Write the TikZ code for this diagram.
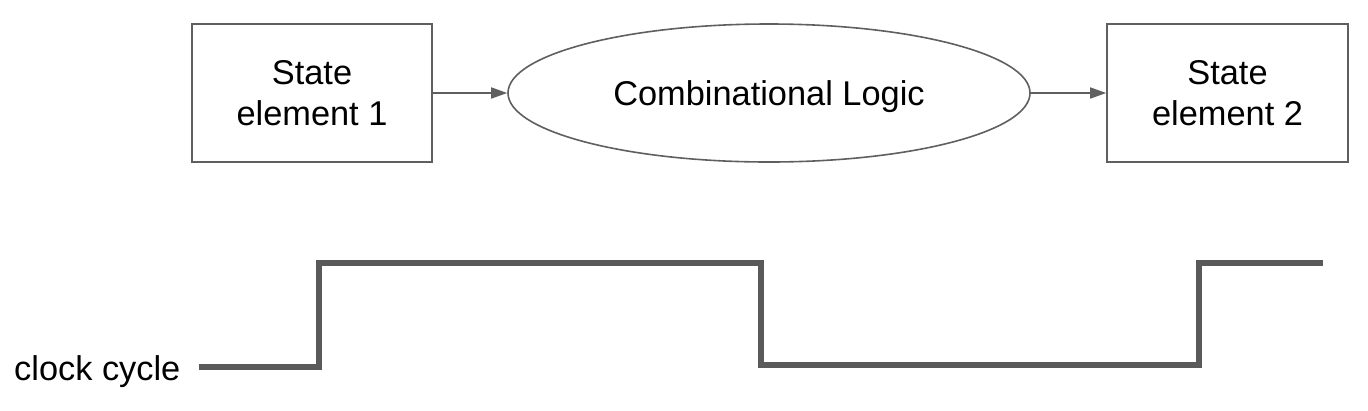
\documentclass[tikz,border=0pt]{standalone}
\usepackage{fontspec}
\setmainfont{Liberation Sans}
\usetikzlibrary{shapes.geometric,arrows.meta}
\definecolor{edge}{HTML}{5F5F5F}
\definecolor{wave}{HTML}{5A5A5A}
\tikzset{
  txt/.style={font=\fontsize{34.5}{41}\selectfont},
  stbox/.style={txt, draw=edge, line width=1.6bp, rectangle, minimum width=240bp, minimum height=138bp, inner sep=0pt, align=center},
  logic/.style={txt, draw=edge, line width=1.6bp, ellipse, minimum width=522bp, minimum height=138bp, inner sep=0pt, text depth=0pt},
  conn/.style={draw=edge, line width=1.6bp, -{Triangle[length=16bp,width=11bp]}},
  clockline/.style={draw=wave, line width=6bp, line join=miter},
  lbl/.style={txt, inner sep=0pt}
}
\begin{document}
\begin{tikzpicture}[x=1bp,y=-1bp]
\useasboundingbox (0,0) rectangle (1368,410);
\node[stbox] (s1) at (312,93) {State\\element 1};
\node[logic] (cl) at (769,93) {Combinational Logic};
\node[stbox, minimum width=241bp] (s2) at (1227.5,93) {State\\element 2};
\draw[conn] (s1.east) -- (cl.west);
\draw[conn] (cl.east) -- (s2.west);
\node[lbl, anchor=base west] (ck) at (14,380) {clock cycle};
\coordinate (c0) at (199,367);
\coordinate (c1) at (319,367);
\coordinate (c2) at (319,263);
\coordinate (c3) at (761,263);
\coordinate (c4) at (761,365);
\coordinate (c5) at (1199,365);
\coordinate (c6) at (1199,263);
\coordinate (c7) at (1323,263);
\draw[clockline] (c0) -- (c1) -- (c2) -- (c3) -- (c4) -- (c5) -- (c6) -- (c7);
\end{tikzpicture}
\end{document}
